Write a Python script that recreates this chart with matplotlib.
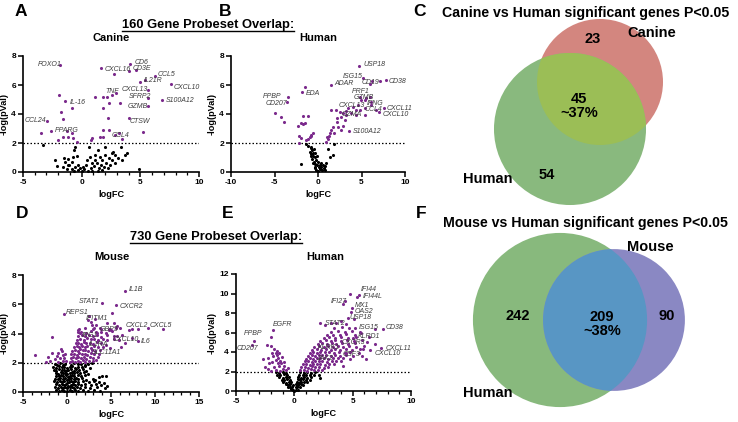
import matplotlib
matplotlib.use('Agg')
import matplotlib.pyplot as plt
from matplotlib.patches import Circle
from matplotlib.lines import Line2D
from matplotlib.ticker import MultipleLocator

plt.rcParams['font.family'] = ['Liberation Sans', 'DejaVu Sans']
plt.rcParams['axes.unicode_minus'] = False

# ---------------- data ----------------
# Panel A: canine (160 gene overlap)
a_sig = [(-1.85, 7.38), (1.65, 7.20), (2.78, 6.76), (4.15, 7.45), (4.06, 6.97), (4.63, 7.03),
         (5.40, 6.34), (4.97, 6.20), (6.25, 6.62), (7.61, 6.05), (5.62, 5.66), (5.68, 5.08),
         (6.88, 4.97), (5.68, 4.55), (2.56, 5.31), (2.13, 5.20), (2.90, 5.47), (1.14, 5.20),
         (1.79, 5.15), (2.36, 4.74), (3.27, 4.74), (1.85, 4.39), (2.27, 3.70), (4.06, 3.70),
         (5.20, 2.78), (2.33, 2.90), (1.85, 2.90), (3.21, 2.67), (2.84, 2.55), (3.41, 2.25),
         (1.56, 2.39), (1.85, 2.39), (0.85, 2.32), (0.80, 2.20), (-1.42, 4.90), (-1.90, 5.31),
         (-0.85, 4.44), (-1.76, 4.11), (-1.62, 3.63), (-2.98, 3.54), (-3.47, 2.71), (-2.61, 2.85),
         (-1.28, 2.83), (-1.56, 2.39), (-1.14, 2.39), (-0.71, 2.32), (-1.99, 2.20), (-0.43, 2.09),
         (-0.85, 2.71)]
a_ns = [(-3.27, 1.86), (-0.57, 1.75), (-0.63, 1.52), (-0.43, 1.10), (0.63, 1.70), (1.14, 1.17),
        (1.42, 1.52), (1.99, 1.75), (2.56, 1.29), (2.84, 1.17), (2.70, 1.40), (3.35, 1.75),
        (3.84, 1.29), (-2.27, 0.83), (-1.48, 0.94), (-1.42, 0.71), (-1.14, 0.87), (-1.05, 0.48),
        (-0.80, 0.71), (-2.13, 0.41), (-1.62, 0.32), (-1.28, 0.18), (-0.85, 0.23), (-0.57, 0.37),
        (-0.34, 0.14), (-0.14, 0.25), (0.00, 0.09), (0.23, 0.18), (0.34, 0.48), (0.43, 0.83),
        (0.71, 1.06), (0.85, 0.60), (1.08, 0.41), (1.28, 0.64), (1.48, 0.25), (1.65, 0.48),
        (1.76, 0.83), (1.93, 0.32), (2.05, 0.60), (2.27, 0.25), (2.41, 0.48), (2.61, 0.83),
        (2.84, 0.60), (3.13, 0.94), (3.47, 0.83), (3.69, 1.17), (4.89, 0.23), (0.14, 0.37),
        (0.51, 0.09), (0.80, 0.25), (0.91, 0.09), (-0.28, 0.48), (-0.63, 0.09), (1.36, 0.09),
        (1.76, 0.14), (-0.71, 1.06), (-1.14, 0.48), (1.14, 0.83), (1.56, 1.06), (1.99, 1.17),
        (2.36, 0.94)]
a_labels = [("FOXO1", -3.75, 7.38), ("CXCL16", 1.93, 7.06), ("CD6", 4.49, 7.56), ("CD3E", 4.30, 7.12),
            ("CCL5", 6.48, 6.69), ("IL21R", 5.26, 6.30), ("CXCL10", 7.81, 5.82), ("TNF", 2.05, 5.56),
            ("CXCL13", 3.41, 5.68), ("SFRP2", 4.03, 5.22), ("S100A12", 7.19, 4.92), ("GZMB", 3.92, 4.55),
            ("IL-16", -0.99, 4.80), ("CCL24", -4.83, 3.54), ("CTSW", 4.12, 3.49), ("PPARG", -2.27, 2.83),
            ("CCL4", 2.56, 2.51)]

# Panel B: human (160 gene overlap)
b_sig = [(4.71, 7.32), (5.17, 6.51), (1.46, 6.03), (5.94, 6.06), (7.09, 6.26), (7.78, 6.33),
         (6.25, 6.26), (-1.84, 5.53), (-1.53, 5.83), (-3.45, 5.14), (-3.60, 4.84), (-4.98, 4.04),
         (-4.29, 3.81), (-3.95, 3.46), (-1.69, 3.85), (-1.15, 3.85), (-2.30, 3.17), (-1.99, 3.39),
         (-1.72, 3.30), (-1.53, 3.39), (-2.18, 2.48), (-1.92, 2.32), (-1.42, 2.20), (-2.22, 2.02),
         (-1.15, 2.25), (-0.96, 2.39), (-0.84, 2.48), (-0.77, 2.55), (-0.57, 2.66), (1.15, 2.25),
         (0.96, 2.09), (1.07, 2.39), (1.26, 2.48), (1.34, 2.71), (1.46, 2.89), (1.76, 3.12),
         (1.84, 2.66), (2.30, 3.07), (2.68, 2.89), (2.87, 3.17), (2.15, 3.46), (2.22, 3.69),
         (3.07, 3.58), (2.68, 3.81), (3.26, 3.92), (3.56, 2.82), (1.53, 4.27), (2.11, 4.27),
         (2.49, 4.15), (2.87, 4.04), (3.45, 4.38), (4.02, 4.50), (4.60, 4.61), (4.33, 4.27),
         (4.79, 4.31), (5.36, 5.00), (5.56, 5.11), (5.94, 5.18), (4.98, 4.95), (6.05, 4.84),
         (6.13, 4.61), (5.44, 3.92), (5.36, 4.38), (6.70, 4.27), (6.97, 4.15), (7.55, 4.38),
         (4.41, 3.92), (4.79, 5.18), (3.80, 4.10), (3.20, 4.20)]
b_ns = [(-1.34, 1.93), (-1.15, 1.79), (-0.84, 1.63), (-0.96, 1.40), (-0.69, 1.51), (-0.46, 1.56),
        (-0.77, 1.24), (-0.57, 1.10), (-0.38, 1.28), (-0.31, 1.01), (-0.69, 0.87), (-0.46, 0.71),
        (-0.19, 0.83), (-0.31, 0.55), (-0.08, 0.48), (0.08, 0.32), (-0.38, 0.25), (0.19, 0.18),
        (0.38, 0.37), (0.57, 0.48), (0.77, 0.41), (0.96, 0.60), (0.31, 0.60), (0.00, 0.09),
        (-0.19, 0.14), (0.50, 0.14), (0.69, 0.25), (1.15, 1.56), (1.84, 1.93), (1.72, 1.17),
        (1.34, 1.06), (-1.92, 0.53), (-0.15, 1.10), (-0.54, 1.33), (0.00, 0.71), (0.23, 0.48),
        (0.84, 0.14), (-0.84, 1.10), (-0.61, 0.60), (-0.31, 0.37), (-0.77, 1.74)]
b_labels = [("USP18", 5.17, 7.41), ("ISG15", 2.87, 6.58), ("ADAR", 1.84, 6.12), ("CD19", 5.06, 6.17),
            ("CD38", 8.16, 6.26), ("EDA", -1.46, 5.41), ("PPBP", -6.32, 5.20), ("CD207", -6.02, 4.75),
            ("PRF1", 3.83, 5.58), ("GZMB", 4.14, 5.14), ("IFNG", 5.65, 4.70), ("CXCL13", 2.35, 4.62),
            ("CCL4", 5.30, 4.28), ("CXCL11", 7.85, 4.40), ("CXCL10", 7.47, 4.00), ("GZMA", 2.68, 4.00),
            ("S100A12", 4.02, 2.82)]

# Panel D: mouse (730 gene overlap)
d_sig = [(6.59, 6.90), (4.02, 6.06), (5.57, 5.95), (-0.38, 5.33), (2.50, 5.19), (2.73, 4.81), (2.42, 4.92),
         (5.15, 5.42), (5.38, 4.69), (5.72, 4.51), (5.00, 4.24), (6.02, 4.35), (7.05, 4.24), (7.42, 4.28),
         (8.10, 4.31), (9.24, 4.40), (10.87, 4.28), (8.03, 3.49), (7.42, 3.67), (6.59, 3.37), (4.77, 4.24),
         (3.86, 4.28), (3.37, 4.01), (3.07, 4.35), (1.29, 4.24), (1.48, 4.01), (2.80, 4.60), (3.30, 4.55),
         (6.30, 3.90), (5.90, 3.55), (4.40, 3.20), (4.90, 3.00), (3.20, 5.00), (4.50, 4.70), (5.30, 3.80),
         (6.10, 3.10),
         (-3.64, 2.53), (-1.74, 3.78), (-1.67, 2.69), (-0.98, 2.64), (-0.61, 2.80), (-1.17, 2.46),
         (-2.12, 2.41), (-0.30, 2.30), (-1.90, 2.15), (-0.50, 2.10), (-1.40, 2.25), (-0.80, 2.35),
         (-2.40, 2.05), (-0.20, 2.60), (-1.00, 2.05), (-0.45, 2.50), (-0.70, 2.95), (-0.15, 2.15),
         (0.3, 2.08), (0.6, 2.14), (0.9, 2.05), (1.2, 2.12), (1.5, 2.07), (1.8, 2.16), (2.1, 2.06),
         (2.5, 2.11), (2.9, 2.09), (3.3, 2.18),
         (0.4, 2.33), (0.7, 2.38), (1.0, 2.30), (1.3, 2.41), (1.6, 2.34), (1.9, 2.37), (2.2, 2.29),
         (2.6, 2.40), (3.0, 2.32), (3.5, 2.36),
         (0.5, 2.58), (0.8, 2.63), (1.1, 2.55), (1.4, 2.66), (1.7, 2.59), (2.0, 2.62), (2.3, 2.54),
         (2.7, 2.65), (3.1, 2.57), (3.6, 2.61),
         (0.6, 2.83), (0.9, 2.88), (1.2, 2.80), (1.5, 2.91), (1.8, 2.84), (2.1, 2.87), (2.4, 2.79),
         (2.8, 2.90), (3.2, 2.82), (3.8, 2.86),
         (0.8, 3.08), (1.1, 3.13), (1.4, 3.05), (1.7, 3.16), (2.0, 3.09), (2.3, 3.12), (2.7, 3.04),
         (3.1, 3.15), (3.5, 3.07), (4.1, 3.11),
         (1.0, 3.33), (1.3, 3.38), (1.6, 3.30), (1.9, 3.41), (2.2, 3.34), (2.6, 3.37), (3.0, 3.29),
         (3.4, 3.40), (3.9, 3.32),
         (1.1, 3.58), (1.5, 3.63), (1.9, 3.55), (2.3, 3.66), (2.7, 3.59), (3.1, 3.62), (3.5, 3.54),
         (4.1, 3.65), (4.6, 3.57), (5.3, 3.61),
         (1.3, 3.83), (1.7, 3.88), (2.1, 3.80), (2.5, 3.91), (2.9, 3.84), (3.4, 3.87), (3.9, 3.79),
         (4.6, 3.90), (5.7, 3.85),
         (1.2, 4.08), (1.6, 4.13), (2.2, 4.05), (2.7, 4.16), (3.3, 4.09), (3.9, 4.12), (4.4, 4.04),
         (5.1, 4.15),
         (1.4, 4.33), (2.1, 4.38), (2.9, 4.30), (3.7, 4.41), (4.8, 4.34), (5.6, 4.37)]
d_ns = [(-1.4, 1.92), (-1.1, 1.86), (-0.8, 1.95), (-0.5, 1.88), (-0.2, 1.93), (0.4, 1.87), (0.8, 1.96),
        (1.2, 1.89), (1.6, 1.94), (2.0, 1.85), (2.4, 1.91), (2.8, 1.97),
        (-1.6, 1.72), (-1.2, 1.66), (-0.9, 1.75), (-0.6, 1.68), (-0.3, 1.73), (0.0, 1.64), (0.3, 1.71),
        (0.6, 1.77), (0.9, 1.67), (1.3, 1.74), (1.7, 1.69), (2.1, 1.76), (2.6, 1.65),
        (-1.5, 1.52), (-1.2, 1.46), (-0.9, 1.55), (-0.6, 1.48), (-0.35, 1.53), (-0.1, 1.44), (0.15, 1.51),
        (0.45, 1.57), (0.75, 1.47), (1.05, 1.54), (1.4, 1.49), (1.8, 1.56), (2.2, 1.45),
        (-1.3, 1.32), (-1.0, 1.26), (-0.7, 1.35), (-0.45, 1.28), (-0.2, 1.33), (0.05, 1.24), (0.3, 1.31),
        (0.55, 1.37), (0.8, 1.27), (1.1, 1.34), (1.5, 1.29), (1.9, 1.36), (2.4, 1.25),
        (-1.2, 1.12), (-0.9, 1.06), (-0.65, 1.15), (-0.4, 1.08), (-0.15, 1.13), (0.1, 1.04), (0.35, 1.11),
        (0.6, 1.17), (0.85, 1.07), (1.2, 1.14), (1.6, 1.09), (2.0, 1.16), (3.6, 1.05), (4.0, 1.12),
        (4.4, 1.08),
        (-1.4, 0.92), (-1.0, 0.86), (-0.75, 0.95), (-0.5, 0.88), (-0.25, 0.93), (0.0, 0.84), (0.25, 0.91),
        (0.5, 0.97), (0.75, 0.87), (1.0, 0.94), (1.3, 0.89), (1.7, 0.96), (2.2, 0.85), (3.0, 0.91),
        (3.2, 0.83),
        (-1.5, 0.72), (-1.1, 0.66), (-0.8, 0.75), (-0.55, 0.68), (-0.3, 0.73), (-0.05, 0.64), (0.2, 0.71),
        (0.45, 0.77), (0.7, 0.67), (0.95, 0.74), (1.3, 0.69), (1.8, 0.76), (2.5, 0.65), (3.1, 0.72),
        (3.6, 0.68), (4.2, 0.63),
        (-1.3, 0.52), (-0.9, 0.46), (-0.6, 0.55), (-0.35, 0.48), (-0.1, 0.53), (0.15, 0.44), (0.4, 0.51),
        (0.65, 0.57), (0.9, 0.47), (1.2, 0.54), (1.6, 0.49), (2.1, 0.56), (2.7, 0.45), (3.3, 0.52),
        (3.9, 0.47), (4.5, 0.43),
        (-1.4, 0.32), (-1.0, 0.26), (-0.7, 0.35), (-0.45, 0.28), (-0.2, 0.33), (0.05, 0.24), (0.3, 0.31),
        (0.55, 0.37), (0.8, 0.27), (1.1, 0.34), (1.5, 0.29), (2.0, 0.36), (2.6, 0.25), (3.4, 0.32),
        (4.3, 0.27),
        (-1.3, 0.12), (-0.9, 0.08), (-0.6, 0.15), (-0.3, 0.10), (0.0, 0.05), (0.3, 0.13), (0.6, 0.07),
        (0.9, 0.14), (1.3, 0.09), (1.8, 0.11), (2.4, 0.06), (3.1, 0.13), (3.8, 0.08)]
d_labels = [("IL1B", 7.05, 7.02), ("STAT1", 1.36, 6.17), ("CXCR2", 6.02, 5.83), ("REPS1", -0.15, 5.41),
            ("IFITM1", 2.16, 5.02), ("GBP5", 3.75, 4.27), ("CXCL2", 6.70, 4.56), ("CXCL5", 9.43, 4.56),
            ("IRG1", 1.67, 3.88), ("CXCL10", 5.19, 3.60), ("IL6", 8.41, 3.42), ("IL1RA", 2.50, 3.26),
            ("SLC11A1", 2.80, 2.73)]

# Panel E: human (730 gene overlap)
e_sig = [(5.53, 9.86), (4.81, 9.93), (5.39, 9.59), (4.15, 8.90), (4.30, 9.18), (4.93, 8.56), (4.87, 8.15),
         (4.58, 7.53), (5.10, 7.40), (2.23, 6.95), (2.64, 6.78), (3.15, 6.95), (5.21, 6.51), (7.59, 6.37),
         (6.88, 6.37), (5.30, 5.58), (7.45, 4.45), (6.45, 4.21), (6.88, 4.79), (6.20, 5.00), (5.90, 4.30),
         (4.44, 3.87), (4.00, 7.20), (3.60, 7.00), (4.40, 6.90), (5.70, 6.00), (6.40, 5.50), (5.80, 3.60),
         (6.10, 3.30), (4.20, 2.60),
         (-1.86, 6.27), (-2.00, 5.58), (-3.50, 5.14), (-3.67, 4.73), (-2.35, 4.73), (-2.00, 4.65),
         (-1.58, 3.87), (-1.43, 3.36), (-2.15, 2.84), (-1.72, 2.50), (-2.29, 2.26), (-1.15, 2.84),
         (-0.90, 2.60), (-1.80, 3.60), (-1.50, 3.70), (-1.30, 3.90), (-1.20, 3.10), (-1.60, 3.20),
         (-1.90, 3.00), (-2.50, 2.50), (-1.00, 2.30), (-1.35, 2.55), (-0.70, 2.20), (-1.60, 2.15),
         (-2.00, 2.10), (-1.10, 3.50), (-1.75, 4.30), (-1.40, 2.90), (-0.85, 3.00), (-2.70, 3.30),
         (-1.20, 2.10), (-0.55, 2.40), (-1.90, 3.90), (-2.30, 3.40), (-1.50, 4.10),
         (0.5, 2.13), (0.8, 2.19), (1.1, 2.10), (1.4, 2.22), (1.7, 2.15), (2.0, 2.18), (2.4, 2.11),
         (0.6, 2.43), (0.9, 2.49), (1.2, 2.40), (1.5, 2.52), (1.8, 2.45), (2.1, 2.48), (2.5, 2.41), (2.9, 2.50),
         (0.7, 2.73), (1.0, 2.79), (1.3, 2.70), (1.6, 2.82), (1.9, 2.75), (2.2, 2.78), (2.6, 2.71), (3.0, 2.80),
         (3.4, 2.74),
         (0.9, 3.03), (1.2, 3.09), (1.5, 3.00), (1.8, 3.12), (2.1, 3.05), (2.4, 3.08), (2.8, 3.01), (3.2, 3.10),
         (3.6, 3.04), (4.0, 3.07),
         (1.0, 3.33), (1.3, 3.39), (1.6, 3.30), (1.9, 3.42), (2.2, 3.35), (2.5, 3.38), (2.9, 3.31), (3.3, 3.40),
         (3.7, 3.34), (4.2, 3.37), (4.8, 3.32),
         (1.2, 3.63), (1.5, 3.69), (1.8, 3.60), (2.1, 3.72), (2.4, 3.65), (2.7, 3.68), (3.1, 3.61), (3.5, 3.70),
         (3.9, 3.64), (4.4, 3.67), (5.0, 3.62),
         (1.3, 3.93), (1.6, 3.99), (1.9, 3.90), (2.2, 4.02), (2.6, 3.95), (3.0, 3.98), (3.4, 3.91), (3.8, 4.00),
         (4.3, 3.94), (4.8, 3.97), (5.5, 3.92),
         (1.5, 4.23), (1.9, 4.29), (2.3, 4.20), (2.7, 4.32), (3.1, 4.25), (3.5, 4.28), (3.9, 4.21), (4.4, 4.30),
         (4.9, 4.24), (5.6, 4.27),
         (1.7, 4.53), (2.1, 4.59), (2.5, 4.50), (2.9, 4.62), (3.3, 4.55), (3.7, 4.58), (4.2, 4.51), (4.7, 4.60),
         (5.3, 4.54), (6.0, 4.57),
         (2.0, 4.83), (2.4, 4.89), (2.8, 4.80), (3.2, 4.92), (3.6, 4.85), (4.1, 4.88), (4.6, 4.81), (5.2, 4.90),
         (2.2, 5.13), (2.7, 5.19), (3.1, 5.10), (3.5, 5.22), (4.0, 5.15), (4.5, 5.18), (5.1, 5.11), (5.8, 5.20),
         (2.5, 5.43), (3.0, 5.49), (3.5, 5.40), (4.0, 5.52), (4.6, 5.45), (5.0, 5.48),
         (2.8, 5.73), (3.3, 5.79), (3.9, 5.70), (4.4, 5.82), (5.2, 5.75),
         (3.1, 6.08), (3.7, 6.14), (4.3, 6.05), (4.9, 6.17), (5.6, 6.10),
         (3.4, 6.48), (4.1, 6.54), (4.7, 6.45)]
e_ns = [(-1.6, 1.92), (-1.3, 1.86), (-1.0, 1.95), (-0.7, 1.88), (0.5, 1.93), (0.8, 1.87), (1.1, 1.96),
        (1.4, 1.89), (1.8, 1.94),
        (-1.5, 1.67), (-1.2, 1.62), (-0.9, 1.70), (-0.6, 1.64), (0.4, 1.68), (0.7, 1.61), (1.0, 1.69),
        (1.3, 1.63), (1.7, 1.66), (2.1, 1.60),
        (-1.3, 1.42), (-1.0, 1.37), (-0.75, 1.45), (-0.5, 1.39), (0.35, 1.43), (0.6, 1.36), (0.85, 1.44),
        (1.1, 1.38), (1.4, 1.41), (2.2, 1.35),
        (-1.1, 1.17), (-0.85, 1.12), (-0.6, 1.20), (-0.4, 1.14), (0.3, 1.18), (0.5, 1.11), (0.75, 1.19),
        (1.0, 1.13), (1.3, 1.16),
        (-0.95, 0.92), (-0.7, 0.87), (-0.5, 0.95), (-0.3, 0.89), (0.2, 0.93), (0.4, 0.86), (0.6, 0.94),
        (0.85, 0.88), (1.1, 0.91),
        (-0.75, 0.67), (-0.55, 0.62), (-0.35, 0.70), (-0.15, 0.64), (0.15, 0.68), (0.35, 0.61),
        (0.55, 0.69), (0.75, 0.63),
        (-0.55, 0.42), (-0.35, 0.37), (-0.2, 0.45), (0.1, 0.39), (0.25, 0.43), (0.45, 0.36),
        (-0.3, 0.17), (-0.15, 0.12), (0.0, 0.05), (0.15, 0.14), (0.3, 0.10)]
e_labels = [("IFI44", 5.73, 10.45), ("IFI44L", 5.82, 9.69), ("IFI27", 3.09, 9.18), ("MX1", 5.16, 8.80),
            ("OAS2", 5.16, 8.16), ("USP18", 4.73, 7.50), ("STAT2", 2.58, 6.95), ("ISG15", 5.50, 6.51),
            ("CD38", 7.82, 6.54), ("KLRD1", 5.44, 5.58), ("EGFR", -1.86, 6.78), ("PPBP", -4.36, 5.86),
            ("CD207", -4.93, 4.32), ("CXCL11", 7.82, 4.38), ("CXCL10", 6.88, 3.80), ("CXCR3", 4.01, 5.00),
            ("KLRK1", 2.00, 4.45), ("CSF3", 4.15, 3.77), ("JAK2", 1.86, 3.36)]

# Venn counts
c_canine_only, c_shared, c_human_only = 23, 45, 54
c_shared_pct = "~37%"
f_human_only, f_shared, f_mouse_only = 242, 209, 90
f_shared_pct = "~38%"

# ---------------- figure ----------------
W, H = 738, 422
fig = plt.figure(figsize=(W / 100, H / 100), dpi=100)
PURPLE = '#7b2a8c'
LABEL_COL = '#3c3c3c'


def box(x0, x1, ytop, ybot):
    return [x0 / W, 1 - ybot / H, (x1 - x0) / W, (ybot - ytop) / H]


def volcano(rect, sig, ns, labels, xlim, xticks, ylim, yticks, minor):
    ax = fig.add_axes(rect)
    ax.scatter([p[0] for p in ns], [p[1] for p in ns], s=5, c='black', linewidths=0, clip_on=False, zorder=3)
    ax.scatter([p[0] for p in sig], [p[1] for p in sig], s=5, c=PURPLE, linewidths=0, clip_on=False, zorder=3)
    ax.axhline(2, color='black', lw=0.9, ls=(0, (1.2, 1.6)), zorder=2)
    for name, x, y in labels:
        ax.text(x, y, name, fontsize=5, style='italic', color=LABEL_COL, ha='left', va='center',
                zorder=4, clip_on=False)
    ax.set_xlim(*xlim)
    ax.set_ylim(*ylim)
    ax.set_xticks(xticks, [str(t) for t in xticks], fontweight='bold')
    ax.set_yticks(yticks, [str(t) for t in yticks], fontweight='bold')
    if minor:
        ax.xaxis.set_minor_locator(MultipleLocator(1))
    for s in ('top', 'right'):
        ax.spines[s].set_visible(False)
    for s in ('left', 'bottom'):
        ax.spines[s].set_linewidth(1.2)
    ax.tick_params(which='major', direction='out', length=3.5, width=1.1, labelsize=6, pad=1.5)
    ax.tick_params(which='minor', direction='out', length=2, width=0.9)
    ax.set_xlabel('logFC', fontsize=6.6, fontweight='bold', labelpad=3)
    ax.set_ylabel('-log(pVal)', fontsize=6.6, fontweight='bold', labelpad=2)
    ax.patch.set_visible(False)
    return ax


volcano(box(23, 199, 56, 172), a_sig, a_ns, a_labels, (-5, 10), [-5, 0, 5, 10], (0, 8), [0, 2, 4, 6, 8], True)
volcano(box(231, 405, 56, 172), b_sig, b_ns, b_labels, (-10, 10), [-10, -5, 0, 5, 10], (0, 8), [0, 2, 4, 6, 8], False)
volcano(box(23, 199, 275, 392), d_sig, d_ns, d_labels, (-5, 15), [-5, 0, 5, 10, 15], (0, 8), [0, 2, 4, 6, 8], True)
volcano(box(236, 411, 274, 391), e_sig, e_ns, e_labels, (-5, 10), [-5, 0, 5, 10], (0, 12),
        [0, 2, 4, 6, 8, 10, 12], True)

# overlay in pixel coordinates for texts and Venn diagrams
ov = fig.add_axes([0, 0, 1, 1])
ov.set_xlim(0, W)
ov.set_ylim(H, 0)
ov.axis('off')


def t(x, y, s, size, **kw):
    kw.setdefault('fontweight', 'bold')
    return ov.text(x, y, s, fontsize=size, ha=kw.pop('ha', 'center'), va=kw.pop('va', 'center'), **kw)


for letter, x, y in [("A", 21, 11), ("B", 225, 11), ("C", 420, 11),
                     ("D", 22, 213), ("E", 228, 213), ("F", 421, 213)]:
    t(x, y, letter, 12.5)

t1 = t(208, 25, "160 Gene Probeset Overlap:", 9.3)
t2 = t(216, 237, "730 Gene Probeset Overlap:", 9.3)
t(111, 38, "Canine", 8)
t(318, 38, "Human", 8)
t(112, 257, "Mouse", 8)
t(325, 257, "Human", 8)

# Venn C
k_c = 7.64
r_can = k_c * (c_canine_only + c_shared) ** 0.5
r_hum = k_c * (c_human_only + c_shared) ** 0.5
can_c = (600, 82)
hum_c = (570, 129)
p_can = Circle(can_c, r_can, fc='#d3867f', ec='none')
ov.add_patch(p_can)
p_hum = Circle(hum_c, r_hum, fc='#89b97e', ec='none')
ov.add_patch(p_hum)
p_ov = Circle(hum_c, r_hum, fc='#9bbe56', ec='none')
ov.add_patch(p_ov)
p_ov.set_clip_path(p_can)

t(442, 13, "Canine vs Human significant genes P<0.05", 10.2, ha='left')
t(593, 39, str(c_canine_only), 10.5)
t(652, 33, "Canine", 10.5)
t(579, 106, f"{c_shared}\n{c_shared_pct}", 10.5, linespacing=1.0)
t(547, 175, str(c_human_only), 10.5)
t(488, 179, "Human", 10.5)

# Venn F
k_f = 4.1
r_hum2 = k_f * (f_human_only + f_shared) ** 0.5
r_mou = k_f * (f_mouse_only + f_shared) ** 0.5
hum2_c = (560, 320)
mou_c = (614, 320)
p_h2 = Circle(hum2_c, r_hum2, fc='#88b97d', ec='none')
ov.add_patch(p_h2)
p_m = Circle(mou_c, r_mou, fc='#8a88c3', ec='none')
ov.add_patch(p_m)
p_ov2 = Circle(mou_c, r_mou, fc='#5896c4', ec='none')
ov.add_patch(p_ov2)
p_ov2.set_clip_path(p_h2)

t(443, 223, "Mouse vs Human significant genes P<0.05", 10.2, ha='left')
t(518, 316, str(f_human_only), 10.5)
t(602, 324, f"{f_shared}\n{f_shared_pct}", 10.5, linespacing=1.0)
t(667, 316, str(f_mouse_only), 10.5)
t(650, 247, "Mouse", 10.5)
t(488, 393, "Human", 10.5)

# underline the section titles
fig.canvas.draw()
r = fig.canvas.get_renderer()
for tt in (t1, t2):
    bb = tt.get_window_extent(renderer=r)
    yy = bb.y0 + 0.5
    fig.add_artist(Line2D([bb.x0 / W, bb.x1 / W], [yy / H, yy / H], color='black', lw=1.0,
                          transform=fig.transFigure))

fig.savefig('out.png', dpi=100)
